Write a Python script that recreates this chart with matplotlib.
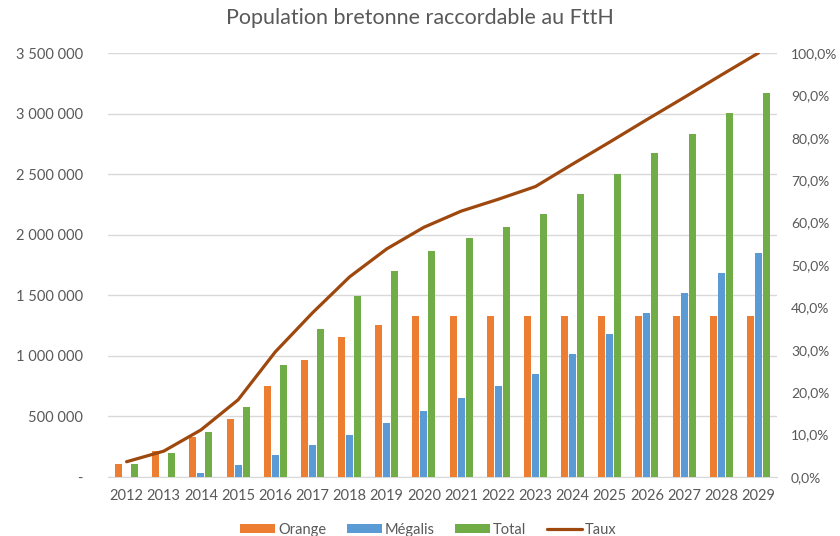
import numpy as np
import matplotlib.pyplot as plt
from matplotlib.ticker import FuncFormatter

plt.rcParams['font.family'] = ['Lato', 'DejaVu Sans']

annees = [str(a) for a in range(2012, 2030)]
orange = [107000, 215000, 333000, 479000, 750000, 965000, 1155000, 1255000, 1325000,
          1325000, 1325000, 1325000, 1325000, 1325000, 1325000, 1325000, 1325000, 1325000]
megalis = [0, 0, 36000, 99000, 179000, 262000, 344000, 446000, 548000,
           650000, 754000, 850000, 1015000, 1180000, 1350000, 1520000, 1685000, 1852000]
total = [110000, 198000, 372000, 575000, 925000, 1222000, 1495000, 1704000, 1869000,
         1974000, 2067000, 2172000, 2340000, 2505000, 2673000, 2835000, 3008000, 3171000]
taux = [3.6, 6.1, 11.1, 18.2, 29.5, 38.7, 47.2, 53.8, 58.9,
        62.7, 65.5, 68.5, 73.8, 79.0, 84.3, 89.5, 94.8, 100.0]

c_orange = '#ED7D31'
c_bleu = '#5B9BD5'
c_vert = '#70AD47'
c_taux = '#9E480E'
c_txt = '#595959'
c_grid = '#D9D9D9'

fig = plt.figure(figsize=(8.4, 5.36), dpi=100)
ax = fig.add_axes([108/840, 1-477/536, (777-108)/840, (477-53)/536])
ax2 = ax.twinx()

x = np.arange(len(annees))
w = 0.19
ax.bar(x - 0.215, orange, w, color=c_orange, label='Orange', zorder=3)
ax.bar(x, megalis, w, color=c_bleu, label='Mégalis', zorder=3)
ax.bar(x + 0.215, total, w, color=c_vert, label='Total', zorder=3)
ax2.plot(x, taux, color=c_taux, lw=2.3, label='Taux', solid_capstyle='round')

ax.set_xlim(-0.5, len(annees) - 0.5)
ax.set_ylim(0, 3500000)
ax.set_yticks(range(0, 3500001, 500000))
ax.yaxis.set_major_formatter(FuncFormatter(
    lambda v, p: '-' if v == 0 else f'{int(v):,}'.replace(',', ' ')))
ax2.set_ylim(0, 100)
ax2.set_yticks(range(0, 101, 10))
ax2.yaxis.set_major_formatter(FuncFormatter(lambda v, p: f'{v:.1f}%'.replace('.', ',')))

ax.set_xticks(x)
ax.set_xticklabels(annees)
ax.grid(axis='y', color=c_grid, lw=1, zorder=0)
for a in (ax, ax2):
    for s in a.spines.values():
        s.set_visible(False)
    a.tick_params(length=0, colors=c_txt, labelsize=10.5)
ax.spines['bottom'].set_visible(True)
ax.spines['bottom'].set_color(c_grid)
ax.tick_params(axis='y', pad=18)
ax.tick_params(axis='x', pad=9)
ax2.tick_params(axis='y', pad=10, labelsize=10)

fig.text(0.5, 1-18/536, 'Population bretonne raccordable au FttH', ha='center', va='center',
         fontsize=15.5, color=c_txt)

h1, l1 = ax.get_legend_handles_labels()
h2, l2 = ax2.get_legend_handles_labels()
fig.legend(h1 + h2, l1 + l2, loc='center', bbox_to_anchor=(0.51, 1-530/536), ncol=4,
           frameon=False, fontsize=10.5, labelcolor=c_txt, handlelength=2.4,
           handleheight=0.6, columnspacing=1.4, handletextpad=0.2)

fig.savefig('out.png', dpi=100)
